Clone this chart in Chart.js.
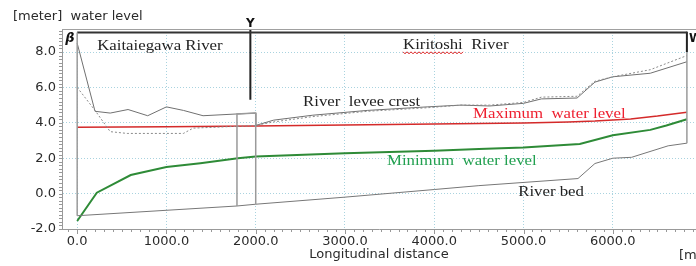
<!DOCTYPE html>
<html>
<head>
<meta charset="utf-8">
<script src="https://cdn.jsdelivr.net/npm/chart.js@4.4.1/dist/chart.umd.min.js"></script>
<style>
  html, body { margin: 0; padding: 0; background: #fff; }
  #wrap { width: 696px; height: 266px; }
</style>
</head>
<body>
<div id="wrap"><canvas id="profile"></canvas></div>
<script>
// tick labels
const xTicks = [0, 1000, 2000, 3000, 4000, 5000, 6000];
const yTicks = [-2, 0, 2, 4, 6, 8];

// river levee crest (solid) and other bank (dotted)
const leveeX = [0, 200, 370, 570, 790, 1000, 1190, 1410, 1790, 2000, 2000, 2200, 2640, 3250, 3920, 4300, 4620, 5000, 5200, 5600, 5800, 6000, 6420, 6830];
const leveeY = [8.5, 4.65, 4.55, 4.75, 4.4, 4.9, 4.7, 4.4, 4.5, 4.55, 3.85, 4.15, 4.43, 4.7, 4.9, 5.0, 4.95, 5.1, 5.35, 5.4, 6.3, 6.6, 6.8, 7.45];
const bankX = [0, 200, 370, 560, 1190, 1300, 1790, 2000, 2200, 2640, 3250, 3920, 4300, 4620, 5000, 5200, 5600, 5800, 6000, 6420, 6830];
const bankY = [6.0, 4.7, 3.5, 3.4, 3.4, 3.7, 3.8, 3.85, 4.05, 4.35, 4.65, 4.85, 5.0, 5.0, 5.15, 5.45, 5.5, 6.35, 6.6, 7.0, 7.8];

// maximum water level
const maxX = [0, 1000, 2000, 3000, 4000, 4500, 5000, 5500, 5800, 6200, 6500, 6830];
const maxY = [3.75, 3.78, 3.82, 3.87, 3.93, 3.96, 3.99, 4.05, 4.1, 4.22, 4.38, 4.6];

// minimum water level
const minX = [0, 220, 600, 1000, 1380, 1800, 2000, 3000, 4000, 4500, 5000, 5630, 6000, 6420, 6600, 6830];
const minY = [-1.55, 0.05, 1.05, 1.5, 1.72, 2.0, 2.1, 2.28, 2.42, 2.52, 2.6, 2.8, 3.3, 3.6, 3.85, 4.2];

// river bed
const bedX = [0, 1790, 2000, 3000, 4000, 4500, 5610, 5800, 6000, 6210, 6620, 6830];
const bedY = [-1.25, -0.7, -0.6, -0.2, 0.23, 0.45, 0.85, 1.7, 2.0, 2.05, 2.7, 2.85];

// section frame: start/end verticals, box at the junction, markers
const startLineX = [0, 0];      const startLineY = [-1.25, 9.1];
const endLineX = [6830, 6830];  const endLineY = [2.85, 8.0];
const endMarkX = [6830, 6830];  const endMarkY = [8.0, 9.15];
const topLineX = [0, 6830];     const topLineY = [9.1, 9.1];
const boxX = [1790, 1790, 2000, 2000]; const boxY = [-0.7, 4.5, 4.55, -0.6];
const yMarkX = [1940, 1940];    const yMarkY = [9.3, 5.3];

const pts = (xs, ys) => xs.map((x, i) => ({ x, y: ys[i] }));
const line = (data, color, width, dash) => ({
  data, borderColor: color, borderWidth: width, borderDash: dash || [],
  pointRadius: 0, tension: 0, fill: false, spanGaps: true
});

const sans = 'DejaVu Sans, sans-serif';
const serif = '"Liberation Serif", "Times New Roman", serif';

function stretchText(ctx, text, x, y, color) {
  ctx.save();
  ctx.translate(x, y);
  ctx.scale(1.2, 1);
  ctx.fillStyle = color;
  ctx.font = '14px ' + serif;
  ctx.textBaseline = 'alphabetic';
  ctx.textAlign = 'left';
  ctx.fillText(text, 0, 0);
  ctx.restore();
}

const decor = {
  id: 'decor',
  afterDraw(chart) {
    const { ctx, scales: { x, y }, chartArea: a } = chart;
    ctx.save();
    // top border of the plot
    ctx.strokeStyle = '#a0a0a0';
    ctx.lineWidth = 1;
    ctx.beginPath(); ctx.moveTo(a.left, a.top + 0.5); ctx.lineTo(a.right, a.top + 0.5); ctx.stroke();

    // minor ticks on the left axis
    ctx.strokeStyle = '#999';
    ctx.beginPath();
    for (let v = -2; v <= 9.3; v += 0.2) {
      const py = Math.round(y.getPixelForValue(v)) + 0.5;
      ctx.moveTo(a.left - 3, py); ctx.lineTo(a.left, py);
    }
    ctx.stroke();
    // minor ticks on the bottom axis
    ctx.beginPath();
    for (let v = -100; v <= 6900; v += 100) {
      const px = Math.round(x.getPixelForValue(v)) + 0.5;
      const len = v % 1000 === 0 ? 5 : 3;
      ctx.moveTo(px, a.bottom); ctx.lineTo(px, a.bottom + len);
    }
    ctx.stroke();

    // axis texts
    ctx.fillStyle = '#2a2a2a';
    ctx.font = '13px ' + sans;
    ctx.textBaseline = 'alphabetic';
    ctx.textAlign = 'left';
    ctx.fillText('[meter]  water level', 13, 20);
    ctx.textAlign = 'center';
    ctx.fillText('Longitudinal distance', (a.left + a.right) / 2, 258);
    ctx.textAlign = 'left';
    ctx.fillText('[m]', 679, 259);

    // section markers
    ctx.font = 'italic bold 13px ' + sans;
    ctx.fillStyle = '#111';
    ctx.fillText('\u03b2', x.getPixelForValue(0) - 12, 42);
    ctx.font = 'bold 12px ' + sans;
    ctx.textAlign = 'center';
    ctx.fillText('Y', x.getPixelForValue(1940), 27);
    ctx.textAlign = 'left';
    ctx.fillText('W', x.getPixelForValue(6830) + 2, 42);

    // annotations
    const at = (vx, vy) => [x.getPixelForValue(vx), y.getPixelForValue(vy)];
    stretchText(ctx, 'Kaitaiegawa River', ...at(224, 8.12), '#222');
    stretchText(ctx, 'Kiritoshi  River', ...at(3650, 8.18), '#222');
    stretchText(ctx, 'River  levee crest', ...at(2530, 4.94), '#222');
    stretchText(ctx, 'Maximum  water level', ...at(4435, 4.26), '#ee2030');
    stretchText(ctx, 'Minimum  water level', ...at(3470, 1.59), '#22a050');
    stretchText(ctx, 'River bed', ...at(4940, -0.11), '#222');

    // spell-check squiggle under Kiritoshi
    const [kx, ky] = at(3650, 8.18);
    ctx.strokeStyle = '#e02020';
    ctx.lineWidth = 1;
    ctx.beginPath();
    for (let i = 0; i <= 30; i++) {
      const px = kx + i * 2;
      const py = ky + 3 + (i % 2 ? 2 : 0);
      if (i === 0) ctx.moveTo(px, py); else ctx.lineTo(px, py);
    }
    ctx.stroke();
    ctx.restore();
  }
};

new Chart(document.getElementById('profile'), {
  type: 'line',
  data: {
    datasets: [
      line(pts(startLineX, startLineY), '#9a9a9a', 1.5),
      line(pts(endLineX, endLineY), '#9a9a9a', 1.5),
      line(pts(boxX, boxY), '#9a9a9a', 1.5),
      line(pts(topLineX, topLineY), '#333', 2),
      line(pts(endMarkX, endMarkY), '#222', 2),
      line(pts(yMarkX, yMarkY), '#222', 2),
      line(pts(bedX, bedY), '#777', 1),
      line(pts(bankX, bankY), '#8a8a8a', 1, [2, 2]),
      line(pts(leveeX, leveeY), '#707070', 1),
      line(pts(minX, minY), '#2e8b37', 2),
      line(pts(maxX, maxY), '#d42a2a', 1.5)
    ]
  },
  options: {
    responsive: true,
    maintainAspectRatio: false,
    animation: false,
    layout: { padding: { top: 29, right: 0, left: 0, bottom: 0 } },
    plugins: { legend: { display: false }, tooltip: { enabled: false } },
    scales: {
      x: {
        type: 'linear', min: -170, max: 6932,
        afterBuildTicks: s => { s.ticks = xTicks.map(v => ({ value: v })); },
        afterFit: s => { s.height = 37; },
        ticks: { color: '#2a2a2a', font: { family: sans, size: 13 }, padding: 5, maxRotation: 0, autoSkip: false,
                 callback: v => Number(v).toFixed(1) },
        grid: { color: '#a9d3df', drawTicks: false, lineWidth: 1 },
        border: { display: true, color: '#999', dash: [1, 2] }
      },
      y: {
        type: 'linear', min: -2, max: 9.3,
        afterBuildTicks: s => { s.ticks = yTicks.map(v => ({ value: v })); },
        afterFit: s => { s.width = 62; },
        ticks: { color: '#2a2a2a', font: { family: sans, size: 13 }, padding: 6,
                 callback: v => Number(v).toFixed(1) },
        grid: { color: '#a9d3df', drawTicks: false, lineWidth: 1 },
        border: { display: true, color: '#999', dash: [1, 2] }
      }
    }
  },
  plugins: [decor]
});
</script>
</body>
</html>
